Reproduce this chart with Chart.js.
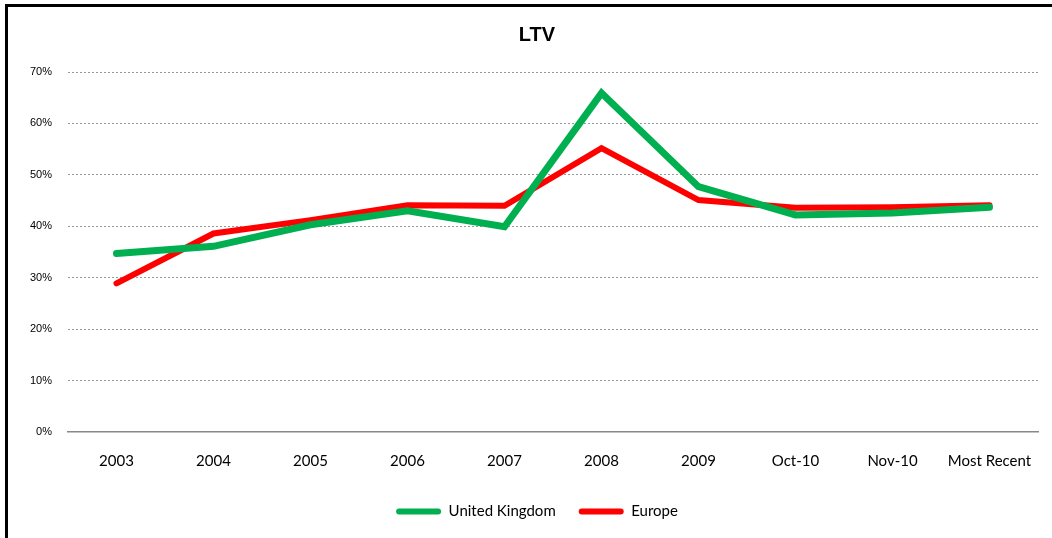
<!DOCTYPE html>
<html>
<head>
<meta charset="utf-8">
<script src="https://cdn.jsdelivr.net/npm/chart.js@4"></script>
<style>
  html, body { margin: 0; padding: 0; background: #fff; overflow: hidden; }
  #wrap { position: relative; width: 1052px; height: 538px; }
  #frame { position: absolute; left: 5px; top: 4px; width: 1100px; height: 600px;
           border-left: 3px solid #000; border-top: 3px solid #000; box-sizing: border-box; }
  canvas { position: absolute; left: 0; top: 0; }
</style>
</head>
<body>
<div id="wrap">
  <div id="frame"></div>
  <canvas id="ltvChart" width="1052" height="538"></canvas>
</div>
<script>
const categories = ["2003", "2004", "2005", "2006", "2007", "2008", "2009", "Oct-10", "Nov-10", "Most Recent"]
const ukValues = [34.7, 36.1, 40.3, 43.0, 39.9, 65.9, 47.7, 42.2, 42.6, 43.7]
const europeValues = [28.9, 38.6, 41.2, 44.1, 44.0, 55.2, 45.1, 43.6, 43.7, 44.1]
const yTicks = [0, 10, 20, 30, 40, 50, 60, 70]

// y axis is kept narrow so title/legend centre like the original; widen its label clip box after layout
const widenYLabels = {
  id: 'widenYLabels',
  afterLayout(chart) { chart.scales.y.left = 0 }
}

const ctx = document.getElementById('ltvChart').getContext('2d')
new Chart(ctx, {
  type: 'line',
  data: {
    labels: categories,
    datasets: [
      { label: 'United Kingdom', data: ukValues, borderColor: '#00B050', backgroundColor: '#00B050',
        borderWidth: 7, pointRadius: 0, tension: 0, borderCapStyle: 'round', borderJoinStyle: 'miter' },
      { label: 'Europe', data: europeValues, borderColor: '#FF0000', backgroundColor: '#FF0000',
        borderWidth: 6, pointRadius: 0, tension: 0, borderCapStyle: 'round', borderJoinStyle: 'miter' }
    ]
  },
  plugins: [widenYLabels],
  options: {
    responsive: false, animation: false,
    layout: { padding: { left: 36, right: 14, top: 8, bottom: 9 } },
    plugins: {
      title: {
        display: true, text: 'LTV', color: '#000',
        font: { family: 'Liberation Sans', size: 20, weight: 'bold' },
        padding: { top: 15, bottom: 25 }
      },
      legend: {
        position: 'bottom',
        labels: {
          color: '#000', boxWidth: 45, boxHeight: 6, padding: 23,
          useBorderRadius: true, borderRadius: 3,
          font: { family: 'Lato', size: 15 },
          generateLabels: chart => Chart.defaults.plugins.legend.labels.generateLabels(chart)
            .map(l => Object.assign(l, { lineWidth: 0 }))
        }
      },
      tooltip: { enabled: false }
    },
    scales: {
      x: {
        offset: true,
        grid: { display: false },
        border: { display: true, color: '#888', width: 1.5 },
        ticks: { color: '#000', padding: 12, maxRotation: 0, autoSkip: false, font: { family: 'Lato', size: 15 } },
        afterFit: s => { s.height = 49 }
      },
      y: {
        min: 0, max: 70,
        afterBuildTicks: s => { s.ticks = yTicks.map(v => ({ value: v })) },
        grid: {
          drawTicks: false, lineWidth: 1,
          color: c => c.tick && c.tick.value === 0 ? 'rgba(0,0,0,0)' : '#999'
        },
        border: { display: false, dash: [2, 2] },
        ticks: { color: '#000', padding: 16, callback: v => v + '%', font: { family: 'Liberation Sans', size: 11 } },
        afterFit: s => { s.width = 32 }
      }
    }
  }
})
</script>
</body>
</html>
